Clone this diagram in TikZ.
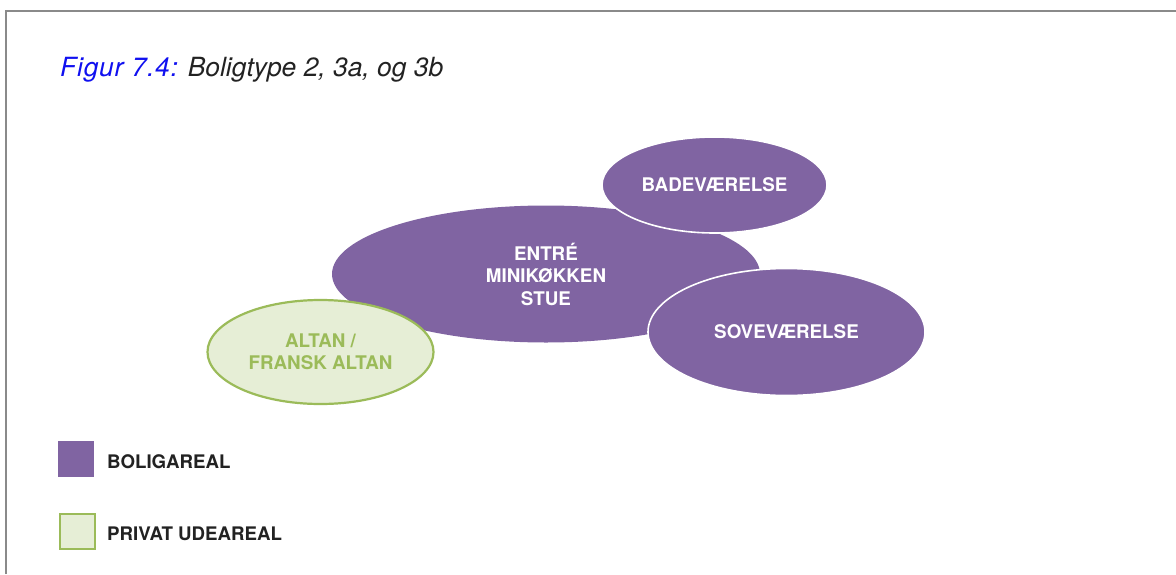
\documentclass[tikz,border=0pt]{standalone}
\usepackage{fontspec}
\setmainfont{TeX Gyre Heros}
\usetikzlibrary{shapes.geometric}
\definecolor{boligpurple}{HTML}{8064A2}
\definecolor{altangreen}{HTML}{9BBB59}
\definecolor{altanfill}{HTML}{E6EED6}
\definecolor{titleblue}{HTML}{1010F0}
\definecolor{darktext}{HTML}{222222}
\definecolor{framegray}{HTML}{8A8A8A}
\tikzset{
  room/.style={ellipse, fill=boligpurple, draw=white, line width=1.6pt, inner sep=0pt,
    text=white, align=center, font=\bfseries\fontsize{18.8}{22.5}\selectfont},
  outdoor/.style={ellipse, fill=altanfill, draw=altangreen, line width=2.2pt, inner sep=0pt,
    text=altangreen, align=center, font=\bfseries\fontsize{18.8}{22.5}\selectfont},
  legendbox/.style={minimum width=36pt, minimum height=36pt, inner sep=0pt},
  legendtext/.style={anchor=west, inner sep=0pt, text=darktext, font=\bfseries\fontsize{18.7}{22}\selectfont}
}
\begin{document}
\begin{tikzpicture}[x=1pt,y=-1pt]
\useasboundingbox (0,0) rectangle (1176,574);
\fill[white] (0,0) rectangle (1176,574);
% frame (top and left edges)
\coordinate (fbl) at (6,574);
\coordinate (ftl) at (6,11);
\coordinate (ftr) at (1176,11);
\draw[framegray, line width=1.5pt] (fbl) -- (ftl) -- (ftr);
% title
\node[anchor=base west, inner sep=0pt, font=\itshape\fontsize{26.4}{31}\selectfont] (title) at (60,76)
  {{\color{titleblue}\addfontfeature{LetterSpace=3}Figur 7.4:} \textcolor{darktext}{Boligtype 2, 3a, og 3b}};
% rooms
\node[room, draw=none, minimum width=428pt, minimum height=137pt] (entre) at (546,274)
  {ENTRÉ\\MINIKØKKEN\\STUE};
\node[room, minimum width=225pt, minimum height=96pt] (bad) at (714.5,185) {BADEVÆRELSE};
\node[room, minimum width=277pt, minimum height=127pt] (sove) at (786.5,332) {SOVEVÆRELSE};
\node[outdoor, minimum width=226pt, minimum height=104pt] (altan) at (320.5,352)
  {ALTAN /\\FRANSK ALTAN};
% legend
\node[legendbox, fill=boligpurple] (lg1) at (76,459) {};
\node[legendtext] (lt1) at (107,462) {BOLIGAREAL};
\node[legendbox, fill=altanfill, draw=altangreen, line width=2pt, minimum width=35pt, minimum height=35pt] (lg2) at (77,531) {};
\node[legendtext] (lt2) at (107,534) {PRIVAT UDEAREAL};
\end{tikzpicture}
\end{document}
